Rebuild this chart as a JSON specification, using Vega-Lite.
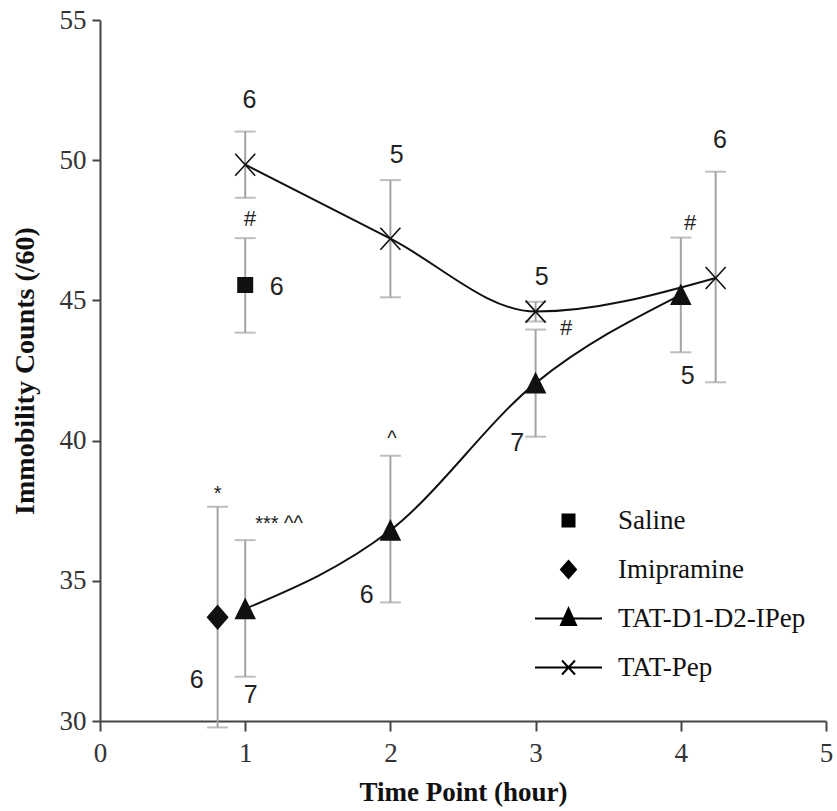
{
  "$schema": "https://vega.github.io/schema/vega-lite/v6.json",
  "width": 726,
  "height": 701,
  "autosize": "none",
  "padding": {"left": 100, "top": 20, "right": 11, "bottom": 90},
  "background": "white",
  "config": {
    "view": {"stroke": null},
    "axis": {"grid": false}
  },
  "datasets": {
    "pts": [
      {"series": "Saline", "x": 1, "mean": 45.55, "low": 43.85, "high": 47.22},
      {"series": "Imipramine", "x": 0.81, "mean": 33.7, "low": 29.77, "high": 37.64},
      {"series": "TAT-D1-D2-IPep", "x": 1, "mean": 34.0, "low": 31.58, "high": 36.45},
      {"series": "TAT-D1-D2-IPep", "x": 2, "mean": 36.8, "low": 34.23, "high": 39.46},
      {"series": "TAT-D1-D2-IPep", "x": 3, "mean": 42.05, "low": 40.14, "high": 43.96},
      {"series": "TAT-D1-D2-IPep", "x": 4, "mean": 45.2, "low": 43.15, "high": 47.24},
      {"series": "TAT-Pep", "x": 1, "mean": 49.84, "low": 48.66, "high": 51.02},
      {"series": "TAT-Pep", "x": 2, "mean": 47.2, "low": 45.11, "high": 49.29},
      {"series": "TAT-Pep", "x": 3, "mean": 44.6, "low": 44.25, "high": 44.95},
      {"series": "TAT-Pep", "x": 4.24, "mean": 45.8, "low": 42.08, "high": 49.59}
    ],
    "notes": [
      {"kind": "n", "x": 1.03, "y": 52.15, "label": "6"},
      {"kind": "n", "x": 1.217, "y": 45.49, "label": "6"},
      {"kind": "n", "x": 2.043, "y": 50.19, "label": "5"},
      {"kind": "n", "x": 1.837, "y": 34.49, "label": "6"},
      {"kind": "n", "x": 3.042, "y": 45.85, "label": "5"},
      {"kind": "n", "x": 2.874, "y": 39.9, "label": "7"},
      {"kind": "n", "x": 4.27, "y": 50.72, "label": "6"},
      {"kind": "n", "x": 4.047, "y": 42.3, "label": "5"},
      {"kind": "n", "x": 0.666, "y": 31.46, "label": "6"},
      {"kind": "n", "x": 1.038, "y": 30.93, "label": "7"},
      {"kind": "hash", "x": 1.03, "y": 47.9, "label": "#"},
      {"kind": "hash", "x": 3.209, "y": 44.0, "label": "#"},
      {"kind": "hash", "x": 4.063, "y": 47.75, "label": "#"},
      {"kind": "sig", "x": 2.01, "y": 40.06, "label": "^"},
      {"kind": "sig", "x": 0.81, "y": 38.1, "label": "*"},
      {"kind": "sig", "x": 1.233, "y": 37.03, "label": "***  ^^"}
    ]
  },
  "resolve": {"scale": {"shape": "independent"}},
  "layer": [
    {
      "data": {"name": "pts"},
      "mark": {"type": "rule", "color": "#a3a3a3", "strokeWidth": 2},
      "encoding": {
        "x": {
          "field": "x", "type": "quantitative",
          "scale": {"domain": [0, 5], "nice": false, "zero": false},
          "axis": {
            "values": [0, 1, 2, 3, 4, 5], "format": "d",
            "title": "Time Point (hour)",
            "titleFont": "Liberation Serif", "titleFontSize": 27, "titleFontWeight": "bold", "titleColor": "#111",
            "titlePadding": 13,
            "labelFont": "Liberation Serif", "labelFontSize": 27, "labelColor": "#333",
            "labelPadding": 9, "labelFlush": false, "labelOverlap": false,
            "tickSize": 10, "tickWidth": 2, "tickColor": "#444",
            "domainWidth": 2, "domainColor": "#444"
          }
        },
        "y": {
          "field": "low", "type": "quantitative",
          "scale": {"domain": [30, 55], "nice": false, "zero": false},
          "axis": {
            "values": [30, 35, 40, 45, 50, 55],
            "title": "Immobility Counts (/60)",
            "titleFont": "Liberation Serif", "titleFontSize": 28, "titleFontWeight": "bold", "titleColor": "#111",
            "titlePadding": 20,
            "labelFont": "Liberation Serif", "labelFontSize": 27, "labelColor": "#333",
            "labelPadding": 6,
            "tickSize": 8, "tickWidth": 2, "tickColor": "#444",
            "domainWidth": 2, "domainColor": "#444"
          }
        },
        "y2": {"field": "high"}
      }
    },
    {
      "data": {"name": "pts"},
      "mark": {"type": "tick", "orient": "horizontal", "color": "#a3a3a3", "size": 21, "thickness": 2},
      "encoding": {
        "x": {"field": "x", "type": "quantitative"},
        "y": {"field": "low", "type": "quantitative"}
      }
    },
    {
      "data": {"name": "pts"},
      "mark": {"type": "tick", "orient": "horizontal", "color": "#a3a3a3", "size": 21, "thickness": 2},
      "encoding": {
        "x": {"field": "x", "type": "quantitative"},
        "y": {"field": "high", "type": "quantitative"}
      }
    },
    {
      "data": {"name": "pts"},
      "transform": [{"filter": "datum.series === 'TAT-Pep' || datum.series === 'TAT-D1-D2-IPep'"}],
      "mark": {"type": "line", "interpolate": "monotone", "color": "#111", "strokeWidth": 2},
      "encoding": {
        "x": {"field": "x", "type": "quantitative"},
        "y": {"field": "mean", "type": "quantitative"},
        "detail": {"field": "series"}
      }
    },
    {
      "data": {"name": "pts"},
      "mark": {"type": "point", "filled": true, "fill": "#111", "stroke": "#111", "strokeWidth": 1.6, "opacity": 1, "size": 400},
      "encoding": {
        "x": {"field": "x", "type": "quantitative"},
        "y": {"field": "mean", "type": "quantitative"},
        "shape": {
          "field": "series", "type": "nominal",
          "scale": {
            "domain": ["Saline", "Imipramine", "TAT-D1-D2-IPep", "TAT-Pep"],
            "range": [
              "M-0.72,-0.72H0.72V0.72H-0.72Z",
              "M0,-1.15L1,0L0,1.15L-1,0Z",
              "M0,-0.95L0.95,0.95L-0.95,0.95Z",
              "M-1,-1.1L1,1.1M-1,1.1L1,-1.1"
            ]
          },
          "legend": null
        }
      }
    },
    {
      "data": {"name": "pts"},
      "mark": {"type": "point", "filled": true, "fill": "black", "stroke": "black", "strokeWidth": 2, "opacity": 0},
      "encoding": {
        "x": {"field": "x", "type": "quantitative"},
        "y": {"field": "mean", "type": "quantitative"},
        "shape": {
          "field": "series", "type": "nominal",
          "scale": {
            "domain": ["Saline", "Imipramine", "TAT-D1-D2-IPep", "TAT-Pep"],
            "range": [
              "M-0.6,-0.6H0.6V0.6H-0.6Z",
              "M0,-0.85L0.75,0L0,0.85L-0.75,0Z",
              "M-3.35,0H3.35M0,-1L0.75,0.65L-0.75,0.65Z",
              "M-3.35,0H3.35M-0.65,-0.7L0.65,0.7M-0.65,0.7L0.65,-0.7"
            ]
          },
          "legend": {
            "orient": "none", "legendX": 455, "legendY": 487,
            "title": null, "padding": 0,
            "symbolSize": 400, "symbolStrokeWidth": 2,
            "labelFont": "Liberation Serif", "labelFontSize": 27, "labelColor": "#111",
            "labelOffset": 36, "rowPadding": 21, "labelLimit": 0,
            "encode": {
              "symbols": {
                "update": {
                  "fill": {"value": "black"},
                  "stroke": {"value": "black"},
                  "strokeWidth": {"value": 2},
                  "opacity": {"value": 1}
                }
              }
            }
          }
        }
      }
    },
    {
      "data": {"name": "notes"},
      "transform": [{"filter": "datum.kind === 'n'"}],
      "mark": {"type": "text", "font": "Liberation Sans", "fontSize": 25, "color": "#222", "align": "center", "baseline": "middle"},
      "encoding": {
        "x": {"field": "x", "type": "quantitative"},
        "y": {"field": "y", "type": "quantitative"},
        "text": {"field": "label"}
      }
    },
    {
      "data": {"name": "notes"},
      "transform": [{"filter": "datum.kind === 'hash'"}],
      "mark": {"type": "text", "font": "Liberation Sans", "fontStyle": "italic", "fontSize": 22, "color": "#222", "align": "center", "baseline": "middle"},
      "encoding": {
        "x": {"field": "x", "type": "quantitative"},
        "y": {"field": "y", "type": "quantitative"},
        "text": {"field": "label"}
      }
    },
    {
      "data": {"name": "notes"},
      "transform": [{"filter": "datum.kind === 'sig'"}],
      "mark": {"type": "text", "font": "Liberation Sans", "fontSize": 20, "color": "#222", "align": "center", "baseline": "middle"},
      "encoding": {
        "x": {"field": "x", "type": "quantitative"},
        "y": {"field": "y", "type": "quantitative"},
        "text": {"field": "label"}
      }
    }
  ]
}
